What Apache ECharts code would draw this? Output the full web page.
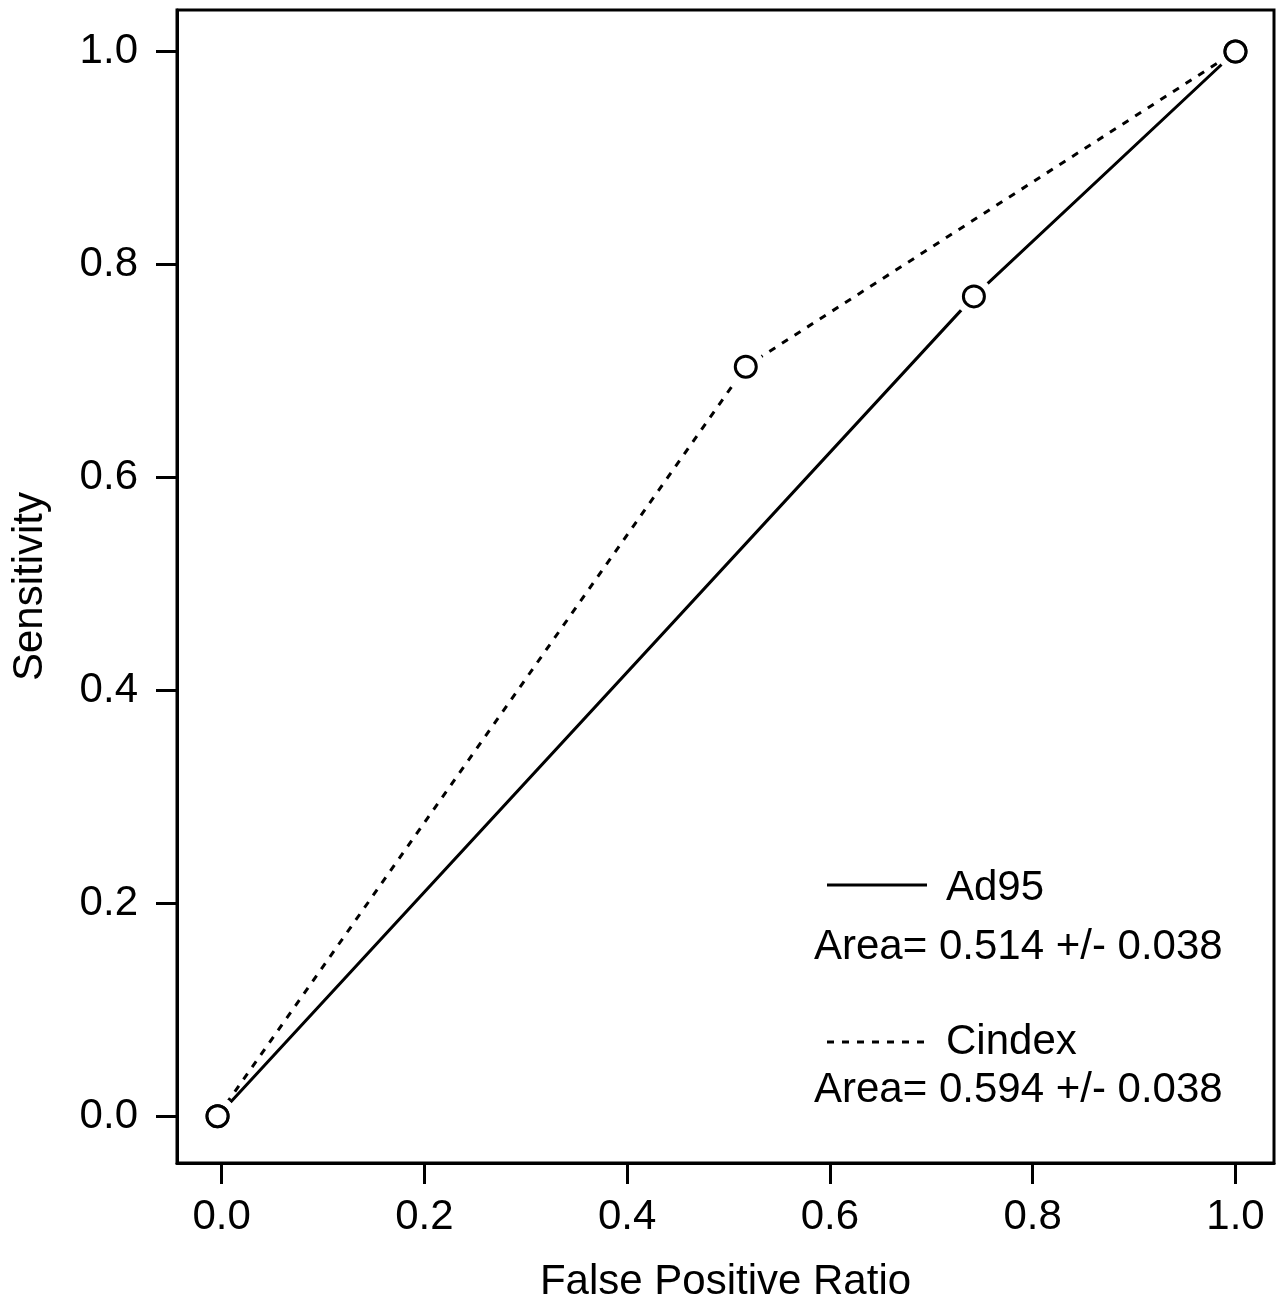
<!DOCTYPE html>
<html>
<head>
<meta charset="utf-8">
<script src="https://cdn.jsdelivr.net/npm/echarts@6/dist/echarts.min.js"></script>
<style>
  html, body { margin: 0; padding: 0; background: #fff; }
  #chart { width: 1286px; height: 1308px; }
</style>
</head>
<body>
<div id="chart"></div>
<script>
// ROC points
const fprAd95 = [-0.004, 0.742, 1.0];
const sensAd95 = [0, 0.770, 1.0];
const fprCindex = [-0.004, 0.517, 1.0];
const sensCindex = [0, 0.704, 1.0];
const tickValues = [0, 0.2, 0.4, 0.6, 0.8, 1.0];
const seriesNames = ['Ad95', 'Cindex'];
const areaLabels = ['Area= 0.514 +/- 0.038', 'Area= 0.594 +/- 0.038'];

const font = "'Liberation Sans', Arial, sans-serif";
const fs = 42;
const pairs = (xs, ys) => xs.map((x, i) => [x, ys[i]]);
const ad95 = pairs(fprAd95, sensAd95);
const cindex = pairs(fprCindex, sensCindex);
const allPoints = ad95.concat(cindex);

const axisCommon = {
    type: 'value',
    axisLine: { show: true, onZero: false, lineStyle: { color: '#000', width: 3 } },
    splitLine: { show: false },
    axisTick: {
        show: true,
        inside: false,
        length: 21,
        customValues: tickValues,
        lineStyle: { color: '#000', width: 3 }
    },
    axisLabel: {
        customValues: tickValues,
        color: '#000',
        fontSize: fs,
        fontFamily: font,
        formatter: v => v.toFixed(1)
    },
    nameLocation: 'middle',
    nameTextStyle: { color: '#000', fontSize: fs, fontFamily: font }
};

const chart = echarts.init(document.getElementById('chart'));
chart.setOption({
    animation: false,
    backgroundColor: '#fff',
    grid: {
        left: 177, top: 10, right: 12, bottom: 144,
        show: true,
        borderColor: '#000',
        borderWidth: 3,
        containLabel: false
    },
    xAxis: Object.assign({}, axisCommon, {
        min: -0.044, max: 1.038,
        name: 'False Positive Ratio',
        nameGap: 98,
        axisLabel: Object.assign({}, axisCommon.axisLabel, { margin: 33 })
    }),
    yAxis: Object.assign({}, axisCommon, {
        min: -0.044, max: 1.039,
        name: 'Sensitivity',
        nameGap: 126,
        axisLabel: Object.assign({}, axisCommon.axisLabel, { margin: 39 })
    }),
    series: [
        {
            name: seriesNames[0], type: 'line', data: ad95, symbol: 'none', z: 2,
            lineStyle: { color: '#000', width: 3, type: 'solid' }
        },
        {
            name: seriesNames[1], type: 'line', data: cindex, symbol: 'none', z: 2,
            lineStyle: { color: '#000', width: 3, type: [7, 8] }
        },
        {
            // white gap around each point, like R's type="b"
            type: 'scatter', data: allPoints, symbol: 'circle', symbolSize: 38, z: 3,
            itemStyle: { color: '#fff', opacity: 1 }, silent: true
        },
        {
            type: 'scatter', data: allPoints, symbol: 'circle', symbolSize: 21, z: 4,
            itemStyle: { color: '#fff', borderColor: '#000', borderWidth: 3, opacity: 1 }
        }
    ],
    graphic: [
        { type: 'line', shape: { x1: 827, y1: 885, x2: 927, y2: 885 },
          style: { stroke: '#000', lineWidth: 3 } },
        { type: 'text', left: 946, top: 867,
          style: { text: seriesNames[0], fontSize: fs, fontFamily: font, fill: '#000' } },
        { type: 'text', left: 814, top: 926,
          style: { text: areaLabels[0], fontSize: fs, fontFamily: font, fill: '#000' } },
        { type: 'line', shape: { x1: 827, y1: 1042, x2: 927, y2: 1042 },
          style: { stroke: '#000', lineWidth: 3, lineDash: [7, 8] } },
        { type: 'text', left: 946, top: 1021,
          style: { text: seriesNames[1], fontSize: fs, fontFamily: font, fill: '#000' } },
        { type: 'text', left: 814, top: 1069,
          style: { text: areaLabels[1], fontSize: fs, fontFamily: font, fill: '#000' } }
    ]
});
</script>
</body>
</html>
